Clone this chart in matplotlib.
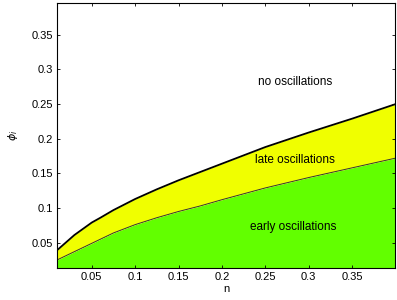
import numpy as np
import matplotlib
matplotlib.use("Agg")
import matplotlib.pyplot as plt
from matplotlib.ticker import FormatStrFormatter

plt.rcParams['font.family'] = ['Liberation Sans', 'DejaVu Sans']

# boundaries
n_vals = [0.01, 0.02, 0.03, 0.04, 0.05, 0.06, 0.075, 0.1, 0.125, 0.15,
          0.175, 0.2, 0.25, 0.3, 0.35, 0.4]
phi_upper = [0.039, 0.050, 0.061, 0.070, 0.079, 0.086, 0.097, 0.113, 0.127, 0.140,
             0.152, 0.164, 0.188, 0.209, 0.229, 0.250]
phi_lower = [0.025, 0.031, 0.037, 0.043, 0.049, 0.055, 0.064, 0.076, 0.086, 0.095,
             0.103, 0.112, 0.129, 0.144, 0.158, 0.172]

ticks = [0.05, 0.1, 0.15, 0.2, 0.25, 0.3, 0.35]

YELLOW = "#f0ff00"
GREEN = "#62ff00"

n = np.array(n_vals)
up = np.array(phi_upper)
lo = np.array(phi_lower)

fig = plt.figure(figsize=(3.97, 3.0), dpi=100)
ax = fig.add_axes([0.1436, 0.1057, 0.8525, 0.8843])

ax.fill_between(n, 0, lo, color=GREEN, lw=0)
ax.fill_between(n, lo, up, color=YELLOW, lw=0)
ax.plot(n, up, color="black", lw=1.3)
ax.plot(n, lo, color="#333333", lw=0.7)

ax.text(0.284, 0.282, "no oscillations", fontsize=8.5, ha="center", va="center")
ax.text(0.284, 0.170, "late oscillations", fontsize=8.5, ha="center", va="center")
ax.text(0.282, 0.072, "early oscillations", fontsize=8.5, ha="center", va="center")

ax.set_xlim(0.01, 0.4)
ax.set_ylim(0.013, 0.396)
ax.set_xticks(ticks)
ax.set_yticks(ticks)
ax.xaxis.set_major_formatter(FormatStrFormatter('%g'))
ax.yaxis.set_major_formatter(FormatStrFormatter('%g'))
ax.tick_params(direction="in", length=2.5, width=0.6, labelsize=8,
               top=True, right=True, pad=3)
for sp in ax.spines.values():
    sp.set_linewidth(0.8)

ax.set_xlabel("n", fontsize=8, labelpad=1)
ax.set_ylabel(r"$\phi_i$", fontsize=8, labelpad=8)

fig.savefig("out.png", dpi=100)
